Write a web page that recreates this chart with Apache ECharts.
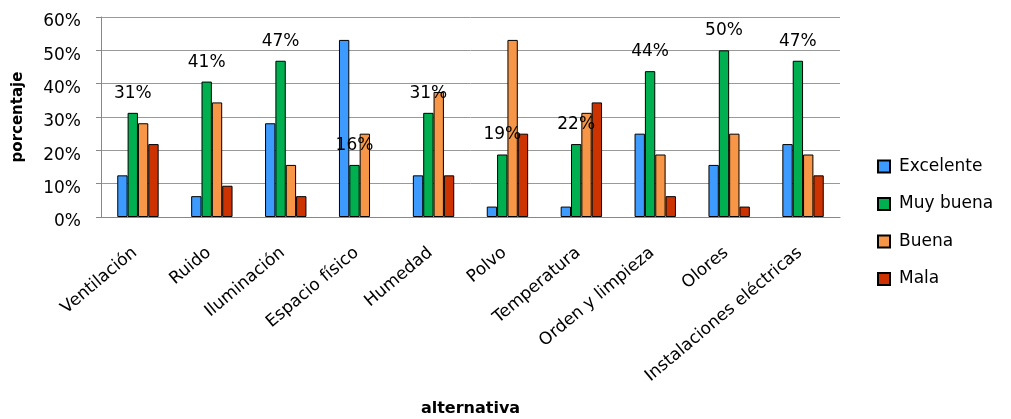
<!DOCTYPE html>
<html>
<head>
<meta charset="utf-8">
<script src="https://cdn.jsdelivr.net/npm/echarts@6/dist/echarts.min.js"></script>
<style>html,body{margin:0;padding:0;background:#fff;}#c{width:1011px;height:419px;}</style>
</head>
<body>
<div id="c"></div>
<script>
const categories = ['Ventilación','Ruido','Iluminación','Espacio físico','Humedad','Polvo','Temperatura','Orden y limpieza','Olores','Instalaciones eléctricas'];
const excelente = [12.5, 6.25, 28.125, 53.125, 12.5, 3.125, 3.125, 25, 15.625, 21.875];
const muyBuena  = [31.25, 40.625, 46.875, 15.625, 31.25, 18.75, 21.875, 43.75, 50, 46.875];
const buena     = [28.125, 34.375, 15.625, 25, 37.5, 53.125, 31.25, 18.75, 25, 18.75];
const mala      = [21.875, 9.375, 6.25, 0, 12.5, 25, 34.375, 6.25, 3.125, 12.5];
const seriesNames = ['Excelente','Muy buena','Buena','Mala'];
const colors = ['#3d9bff','#00b050','#f79646','#cc3300'];

const FONT = 'DejaVu Sans';
function mk(name, data, color, showLabel) {
  return {
    name: name, type: 'bar',
    // zero-height bars are not drawn at all in the reference
    data: data.map(v => v === 0 ? { value: v, itemStyle: { borderWidth: 0, opacity: 0 } } : v),
    barGap: '0%', barCategoryGap: '44%',
    itemStyle: { color: color, borderColor: '#000', borderWidth: 1 },
    label: {
      show: showLabel, position: 'top', distance: 11,
      fontFamily: FONT, fontSize: 17, color: '#000',
      formatter: p => Math.round(p.value) + '%'
    },
    emphasis: { disabled: true }
  };
}
const chart = echarts.init(document.getElementById('c'), null, { renderer: 'canvas' });
chart.setOption({
  animation: false,
  grid: { left: 101, right: 171, top: 17, bottom: 202, containLabel: false },
  legend: {
    orient: 'vertical', left: 877, top: 158, padding: 0,
    itemWidth: 12, itemHeight: 12, itemGap: 20.5,
    icon: 'rect',
    textStyle: { fontFamily: FONT, fontSize: 17, color: '#000', lineHeight: 17, padding: [0,0,0,4] },
    data: seriesNames
  },
  xAxis: {
    type: 'category', data: categories,
    name: 'alternativa', nameLocation: 'middle', nameGap: 184,
    nameTextStyle: { fontFamily: FONT, fontSize: 16, fontWeight: 'bold', color: '#000' },
    axisLine: { lineStyle: { color: '#888', width: 1 } },
    axisTick: { show: false },
    axisLabel: { rotate: 40, interval: 0, margin: 31, padding: [0,4,0,0], fontFamily: FONT, fontSize: 17, color: '#000' }
  },
  yAxis: {
    type: 'value', min: 0, max: 60, interval: 10,
    name: 'porcentaje', nameLocation: 'middle', nameGap: 75, nameRotate: 90,
    nameTextStyle: { fontFamily: FONT, fontSize: 15, fontWeight: 'bold', color: '#000' },
    axisLine: { show: true, lineStyle: { color: '#888', width: 1 } },
    axisTick: { show: true, inside: false, length: 5, lineStyle: { color: '#888' } },
    axisLabel: { margin: 20, verticalAlign: 'top', lineHeight: 10, fontFamily: FONT, fontSize: 17, color: '#000', formatter: '{value}%' },
    splitLine: { show: true, lineStyle: { color: '#999', width: 1 } }
  },
  series: [
    mk(seriesNames[0], excelente, colors[0], false),
    mk(seriesNames[1], muyBuena, colors[1], true),
    mk(seriesNames[2], buena, colors[2], false),
    mk(seriesNames[3], mala, colors[3], false)
  ]
});
</script>
</body>
</html>
